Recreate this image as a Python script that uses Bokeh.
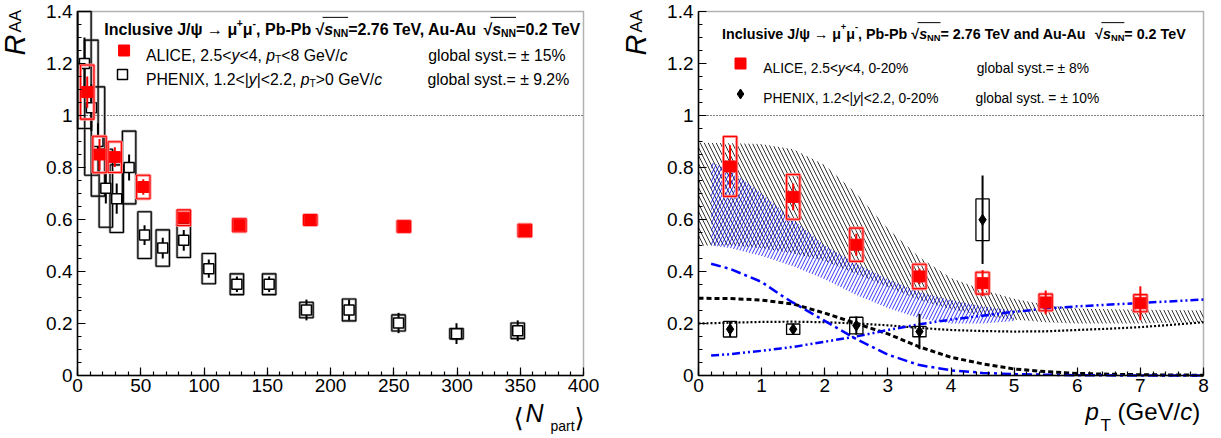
import math
from bokeh.plotting import figure
from bokeh.layouts import row
from bokeh.models import (FixedTicker, CustomJSTickFormatter, Label, LinearAxis, Range1d,
                          BoxAnnotation)
from bokeh.embed import file_html
from bokeh.resources import INLINE

FONT = "Liberation Sans"

# ---------------- data : left panel (R_AA vs <Npart>) ----------------
alice_npart = [7.7, 17.4, 29.5, 52.0, 84.0, 128.0, 184.0, 258.0, 353.6]
alice_raa = [1.09, 0.85, 0.84, 0.725, 0.607, 0.578, 0.598, 0.573, 0.558]
alice_stat = [0.06, 0.06, 0.038, 0.03, 0.02, 0.015, 0.012, 0.012, 0.012]
alice_syst = [0.104, 0.07, 0.059, 0.045, 0.03, 0.025, 0.02, 0.022, 0.024]

phenix_npart = [5.5, 11.0, 16.2, 22.4, 31.0, 40.8, 53.0, 67.4, 84.0, 103.8,
                126.0, 151.5, 181.0, 214.7, 253.8, 299.6, 348.0]
phenix_raa = [1.20, 1.03, 0.90, 0.72, 0.68, 0.80, 0.54, 0.49, 0.52, 0.411,
              0.351, 0.351, 0.252, 0.252, 0.202, 0.161, 0.172]
phenix_stat = [0.10, 0.09, 0.07, 0.058, 0.058, 0.05, 0.038, 0.04, 0.04, 0.035,
               0.03, 0.03, 0.04, 0.04, 0.039, 0.04, 0.04]
phenix_syst = [0.25, 0.26, 0.21, 0.15, 0.13, 0.14, 0.09, 0.07, 0.066, 0.058,
               0.04, 0.04, 0.03, 0.042, 0.031, 0.02, 0.03]

# ---------------- data : right panel (R_AA vs pT) ----------------
alice_pt = [0.5, 1.5, 2.5, 3.5, 4.5, 5.5, 7.0]
alice_pt_raa = [0.804, 0.687, 0.503, 0.381, 0.355, 0.281, 0.278]
alice_pt_stat = [0.082, 0.051, 0.042, 0.03, 0.05, 0.046, 0.065]
alice_pt_syst = [0.115, 0.086, 0.064, 0.047, 0.042, 0.032, 0.033]

phenix_pt = [0.5, 1.5, 2.5, 3.5, 4.5]
phenix_pt_raa = [0.178, 0.178, 0.192, 0.169, 0.599]
phenix_pt_stat = [0.03, 0.02, 0.035, 0.068, 0.17]
phenix_pt_syst = [0.03, 0.02, 0.032, 0.02, 0.08]

# transport model 1 (black hatched band + components)
tm1_pt = [0, 0.5, 1.0, 1.5, 2.0, 2.5, 3.0, 3.5, 4.0, 4.5, 5.0, 5.5, 6.0, 6.5, 7.0, 7.5, 8.0]
tm1_hi = [0.895, 0.893, 0.89, 0.87, 0.81, 0.70, 0.565, 0.455, 0.375, 0.33, 0.295, 0.272, 0.258, 0.255, 0.253, 0.252, 0.25]
tm1_lo = [0.50, 0.50, 0.49, 0.47, 0.44, 0.39, 0.34, 0.29, 0.255, 0.23, 0.215, 0.205, 0.20, 0.20, 0.20, 0.203, 0.205]
tm1_regen = [0.297, 0.296, 0.29, 0.275, 0.24, 0.20, 0.16, 0.11, 0.07, 0.045, 0.025, 0.015, 0.008, 0.005, 0.003, 0.002, 0.001]
tm1_prim = [0.20, 0.203, 0.206, 0.207, 0.205, 0.20, 0.193, 0.183, 0.175, 0.171, 0.169, 0.17, 0.175, 0.18, 0.186, 0.195, 0.205]

# transport model 2 (blue hatched band + components)
tm2_pt = [0.2, 0.5, 1.0, 1.5, 2.0, 2.5, 3.0, 3.5, 4.0, 4.5, 5.0]
tm2_hi = [0.82, 0.79, 0.70, 0.60, 0.50, 0.43, 0.37, 0.32, 0.29, 0.265, 0.25]
tm2_lo = [0.50, 0.49, 0.46, 0.42, 0.37, 0.31, 0.26, 0.22, 0.20, 0.20, 0.21]
tm2c_pt = [0.2, 0.5, 0.8, 1.0, 1.3, 1.5, 2.0, 2.5, 3.0, 3.5, 4.0, 4.5, 5.0, 5.5, 6.0, 7.0, 8.0]
tm2_regen = [0.43, 0.41, 0.38, 0.36, 0.31, 0.28, 0.21, 0.14, 0.08, 0.04, 0.02, 0.01, 0.005, 0.003, 0.001, 0.0, 0.0]
tm2_prim = [0.077, 0.082, 0.09, 0.095, 0.104, 0.11, 0.13, 0.15, 0.175, 0.197, 0.215, 0.23, 0.245, 0.257, 0.266, 0.279, 0.292]

# axis ticks
npart_ticks = list(range(0, 401, 50))
npart_minor = list(range(0, 401, 10))
pt_ticks = list(range(0, 9))
pt_minor = [round(0.2 * i, 1) for i in range(41)]
raa_ticks = [0, 0.2, 0.4, 0.6, 0.8, 1.0, 1.2, 1.4]
raa_minor = [round(0.05 * i, 2) for i in range(29)]
RAA_MAX = 1.4

# ---------------- text width helper (Arial / Liberation Sans metrics) ----------------
REG = {' ': 278, '!': 278, '%': 889, '(': 333, ')': 333, '+': 584, ',': 278, '-': 333, '.': 278,
       '/': 278, ':': 278, '<': 584, '=': 584, '>': 584, '|': 260, '±': 584, 'ψ': 713, 'μ': 576,
       '→': 1000, '√': 549,
       'A': 667, 'B': 667, 'C': 722, 'D': 722, 'E': 667, 'F': 611, 'G': 778, 'H': 722, 'I': 278,
       'J': 500, 'K': 667, 'L': 556, 'M': 833, 'N': 722, 'O': 778, 'P': 667, 'R': 722, 'S': 667,
       'T': 611, 'U': 722, 'V': 667, 'X': 667, 'Y': 667,
       'a': 556, 'b': 556, 'c': 500, 'd': 556, 'e': 556, 'f': 278, 'g': 556, 'h': 556, 'i': 222,
       'j': 222, 'k': 500, 'l': 222, 'm': 833, 'n': 556, 'o': 556, 'p': 556, 'r': 333, 's': 500,
       't': 278, 'u': 556, 'v': 500, 'x': 500, 'y': 500}
BOLD = dict(REG)
BOLD.update({'A': 722, 'J': 556, 'b': 611, 'c': 556, 'd': 611, 'i': 278, 'l': 278, 'n': 611,
             'o': 611, 'p': 611, 's': 556, 'u': 611, 'v': 556, 'r': 389, 't': 333, 'μ': 611,
             'ψ': 740})


def tw(s, size, bold=False):
    tab = BOLD if bold else REG
    return sum(tab.get(ch, 556) for ch in s) * size / 1000.0


def seg_width(segs, size, bold):
    w = 0
    for t, f in segs:
        s = size * 0.65 if ("sub" in f or "sup" in f) else size
        w += tw(t, s, bold)
    return w


def rich(p, X, Y, sx, sy, segs, size, bold=False, color="black"):
    x = sx
    sqrt_start = None
    bars = []
    for t, f in segs:
        s = size
        dy = 0
        if "sub" in f:
            s = size * 0.65
            dy = size * 0.28
        if "sup" in f:
            s = size * 0.65
            dy = -size * 0.42
        style = []
        if bold:
            style.append("bold")
        if "it" in f:
            style.append("italic")
        st = " ".join(style) if style else "normal"
        p.add_layout(Label(x=X(x), y=Y(sy + dy), text=t, text_font=FONT,
                           text_font_size=f"{s:.1f}px", text_font_style=st,
                           text_color=color, text_align="left", text_baseline="alphabetic"))
        w = tw(t, s, bold)
        if t == "√":
            sqrt_start = x + w * 0.8
        if "sub" in f and sqrt_start is not None:
            bars.append((sqrt_start, x + w))
            sqrt_start = None
        x += w
    for a, b in bars:
        yb = sy - size * 0.76
        p.segment(x0=[X(a)], y0=[Y(yb)], x1=[X(b)], y1=[Y(yb)], line_color=color, line_width=1)
    return x


# ---------------- geometry (page pixels) ----------------
H = 437
FT, FB = 11, 375            # frame top / bottom (page y)
W1, W2 = 610, 610           # widths of the two canvases


def Y(sy):
    return (FB - sy) * 1.4 / (FB - FT)


def X1(sx):
    return (sx - 77) * 400.0 / 506.0


def X2(sx):
    return (sx - 698) * 8.0 / 505.0


def style_axis(ax):
    ax.axis_line_width = 1.5
    ax.major_tick_in = 8
    ax.major_tick_out = 0
    ax.minor_tick_in = 4
    ax.minor_tick_out = 0
    ax.major_tick_line_width = 1.2
    ax.minor_tick_line_width = 1.2
    ax.major_label_text_font = FONT
    ax.major_label_text_font_size = "19px"
    ax.major_label_text_color = "black"
    ax.formatter = CustomJSTickFormatter(code="return String(Math.round(tick*100)/100);")


def make_fig(width, x0_page, X, xmax, xt, xminor):
    p = figure(width=width, height=H,
               x_range=Range1d(X(x0_page), X(x0_page + width)), y_range=Range1d(Y(H), Y(0)),
               x_axis_location=None, y_axis_location=None, output_backend="svg",
               toolbar_location=None, title=None, min_border=0)
    p.grid.visible = False
    p.outline_line_color = None
    p.background_fill_color = "white"
    p.border_fill_color = "white"
    xa = LinearAxis(fixed_location=0, bounds=(0, xmax),
                    ticker=FixedTicker(ticks=xt, minor_ticks=xminor))
    style_axis(xa)
    xa.major_label_standoff = 3
    p.add_layout(xa, "below")
    ya = LinearAxis(fixed_location=0, bounds=(0, RAA_MAX),
                    ticker=FixedTicker(ticks=raa_ticks, minor_ticks=raa_minor))
    style_axis(ya)
    ya.major_label_standoff = 5
    p.add_layout(ya, "left")
    p.add_layout(BoxAnnotation(left=0, right=xmax, bottom=0, top=RAA_MAX, fill_color=None,
                               line_color="black", line_width=1.5))
    p.segment(x0=[0], y0=[1.0], x1=[xmax], y1=[1.0], line_color="black", line_width=1,
              line_dash="1 2")
    return p


def lab(p, x, y, text, size, style="normal", font=FONT, angle=0.0):
    p.add_layout(Label(x=x, y=y, text=text, text_font=font, text_font_size=size,
                       text_font_style=style, angle=angle, text_baseline="alphabetic",
                       text_align="left", text_color="black"))


def clip(v):
    return min(v, RAA_MAX)


# ======================= LEFT PANEL =======================
p1 = make_fig(W1, 0, X1, 400, npart_ticks, npart_minor)

BW1 = 5.3
# PHENIX
for lc, lw in (("#9a9a9a", 2.6), ("black", 1.1)):
    p1.quad(left=[x - BW1 for x in phenix_npart], right=[x + BW1 for x in phenix_npart],
            bottom=[y - s for y, s in zip(phenix_raa, phenix_syst)],
            top=[clip(y + s) for y, s in zip(phenix_raa, phenix_syst)],
            fill_color=None, line_color=lc, line_width=lw)
p1.segment(x0=phenix_npart, x1=phenix_npart,
           y0=[y - s for y, s in zip(phenix_raa, phenix_stat)],
           y1=[clip(y + s) for y, s in zip(phenix_raa, phenix_stat)],
           line_color="black", line_width=2)
p1.scatter(phenix_npart, phenix_raa, marker="square", size=10, fill_color="white",
           line_color="black", line_width=1.5)
# ALICE
for lc, lw in (("#ff9090", 3), ("red", 1.1)):
    p1.quad(left=[x - BW1 for x in alice_npart], right=[x + BW1 for x in alice_npart],
            bottom=[y - s for y, s in zip(alice_raa, alice_syst)],
            top=[y + s for y, s in zip(alice_raa, alice_syst)],
            fill_color=None, line_color=lc, line_width=lw)
p1.segment(x0=alice_npart, x1=alice_npart,
           y0=[y - s for y, s in zip(alice_raa, alice_stat)],
           y1=[y + s for y, s in zip(alice_raa, alice_stat)],
           line_color="red", line_width=2)
p1.scatter(alice_npart, alice_raa, marker="square", size=11, fill_color="red", line_color="red")

# legend
p1.scatter([X1(123.6)], [Y(50)], marker="square", size=11, fill_color="red", line_color="red")
p1.scatter([X1(122)], [Y(74)], marker="square", size=10, fill_color="white",
           line_color="black", line_width=1.5)

title1 = [("Inclusive J/ψ → μ", ""), ("+", "sup"), ("μ", ""), ("-", "sup"),
          (", Pb-Pb ", ""), ("√", ""), ("s", "it"), ("NN", "sub"), ("=2.76 TeV, Au-Au ", ""),
          ("√", ""), ("s", "it"), ("NN", "sub"), ("=0.2 TeV", "")]
ts1 = 477.0 / seg_width(title1, 1.0, True)
rich(p1, X1, Y, 103.8, 29.0, title1, ts1, bold=True)

LS1 = 15.8
rich(p1, X1, Y, 145.4, 54.5, [("ALICE, 2.5<", ""), ("y", "it"), ("<4, ", ""), ("p", "it"),
                              ("T", "sub"), ("<8 GeV/", ""), ("c", "it")], LS1)
rich(p1, X1, Y, 427.7, 54.5, [("global syst.= ± 15%", "")], LS1)
rich(p1, X1, Y, 145.4, 78.5, [("PHENIX, 1.2<|", ""), ("y", "it"), ("|<2.2, ", ""), ("p", "it"),
                              ("T", "sub"), (">0 GeV/", ""), ("c", "it")], LS1)
rich(p1, X1, Y, 427.0, 78.5, [("global syst.= ± 9.2%", "")], LS1)

# axis titles
lab(p1, X1(14), Y(55), "R", "29px", "italic", angle=math.pi / 2)
lab(p1, X1(15), Y(32), "AA", "17px", angle=math.pi / 2)
lab(p1, X1(513), Y(417), "⟨", "26px", font="DejaVu Sans")
lab(p1, X1(525), Y(412), "N", "25px", "italic")
lab(p1, X1(550), Y(425), "part", "14px")
lab(p1, X1(574), Y(417), "⟩", "26px", font="DejaVu Sans")

# ======================= RIGHT PANEL =======================
p2 = make_fig(W2, W1, X2, 8, pt_ticks, pt_minor)

p2.patch(tm1_pt + tm1_pt[::-1], tm1_hi + tm1_lo[::-1], fill_color=None, line_color=None,
         hatch_pattern="\\", hatch_color="black", hatch_scale=8, hatch_weight=0.8)
p2.patch(tm2_pt + tm2_pt[::-1], tm2_hi + tm2_lo[::-1], fill_color=None, line_color=None,
         hatch_pattern="/", hatch_color="blue", hatch_scale=7, hatch_weight=0.8)
p2.line(tm1_pt, tm1_regen, line_color="black", line_width=3, line_dash="5 3")
p2.line(tm1_pt, tm1_prim, line_color="black", line_width=2.2, line_dash="2 2")
p2.line(tm2c_pt, tm2_regen, line_color="blue", line_width=2.5, line_dash="10 4 3 4")
p2.line(tm2c_pt, tm2_prim, line_color="blue", line_width=2.5, line_dash="8 3 2 3 2 3")

BW2 = 0.105
p2.quad(left=[x - BW2 for x in phenix_pt], right=[x + BW2 for x in phenix_pt],
        bottom=[y - s for y, s in zip(phenix_pt_raa, phenix_pt_syst)],
        top=[y + s for y, s in zip(phenix_pt_raa, phenix_pt_syst)],
        fill_color=None, line_color="black", line_width=1.3)
p2.segment(x0=phenix_pt, x1=phenix_pt,
           y0=[y - s for y, s in zip(phenix_pt_raa, phenix_pt_stat)],
           y1=[y + s for y, s in zip(phenix_pt_raa, phenix_pt_stat)],
           line_color="black", line_width=2)
p2.scatter(phenix_pt, phenix_pt_raa, marker="diamond", size=11, fill_color="black",
           line_color="black")

for lc, lw in (("#ff9090", 3), ("red", 1.1)):
    p2.quad(left=[x - BW2 for x in alice_pt], right=[x + BW2 for x in alice_pt],
            bottom=[y - s for y, s in zip(alice_pt_raa, alice_pt_syst)],
            top=[y + s for y, s in zip(alice_pt_raa, alice_pt_syst)],
            fill_color=None, line_color=lc, line_width=lw)
p2.segment(x0=alice_pt, x1=alice_pt,
           y0=[y - s for y, s in zip(alice_pt_raa, alice_pt_stat)],
           y1=[y + s for y, s in zip(alice_pt_raa, alice_pt_stat)],
           line_color="red", line_width=2)
p2.scatter(alice_pt, alice_pt_raa, marker="square", size=11, fill_color="red", line_color="red")

# legend
p2.scatter([X2(740)], [Y(63)], marker="square", size=11, fill_color="red", line_color="red")
p2.scatter([X2(740)], [Y(93.5)], marker="diamond", size=10, fill_color="black", line_color="black")

title2 = [("Inclusive J/ψ → μ", ""), ("+", "sup"), ("μ", ""), ("-", "sup"),
          (", Pb-Pb ", ""), ("√", ""), ("s", "it"), ("NN", "sub"), (" = 2.76 TeV and Au-Au ", ""),
          ("√", ""), ("s", "it"), ("NN", "sub"), (" = 0.2 TeV", "")]
ts2 = 1.01 * 464.0 / seg_width(title2, 1.0, True)
rich(p2, X2, Y, 721.6, 33.0, title2, ts2, bold=True)

LS2 = 13.8
rich(p2, X2, Y, 762.8, 67.5, [("ALICE, 2.5<", ""), ("y", "it"), ("<4, 0-20%", "")], LS2)
rich(p2, X2, Y, 976.2, 67.5, [("global syst.= ± 8%", "")], LS2)
rich(p2, X2, Y, 762.8, 97.5, [("PHENIX, 1.2<|", ""), ("y", "it"), ("|<2.2, 0-20%", "")], LS2)
rich(p2, X2, Y, 975.0, 97.5, [("global syst. = ± 10%", "")], LS2)

lab(p2, X2(635), Y(55), "R", "29px", "italic", angle=math.pi / 2)
lab(p2, X2(636), Y(32), "AA", "17px", angle=math.pi / 2)
lab(p2, X2(1085), Y(411), "p", "24px", "italic")
lab(p2, X2(1100), Y(425), "T", "17px")
lab(p2, X2(1117), Y(411), "(GeV/", "24px")
lab(p2, X2(1117 + tw("(GeV/", 24)), Y(411), "c", "24px", "italic")
lab(p2, X2(1117 + tw("(GeV/c", 24)), Y(411), ")", "24px")

layout = row(p1, p2)
open("out.html", "w").write(file_html(layout, INLINE))
